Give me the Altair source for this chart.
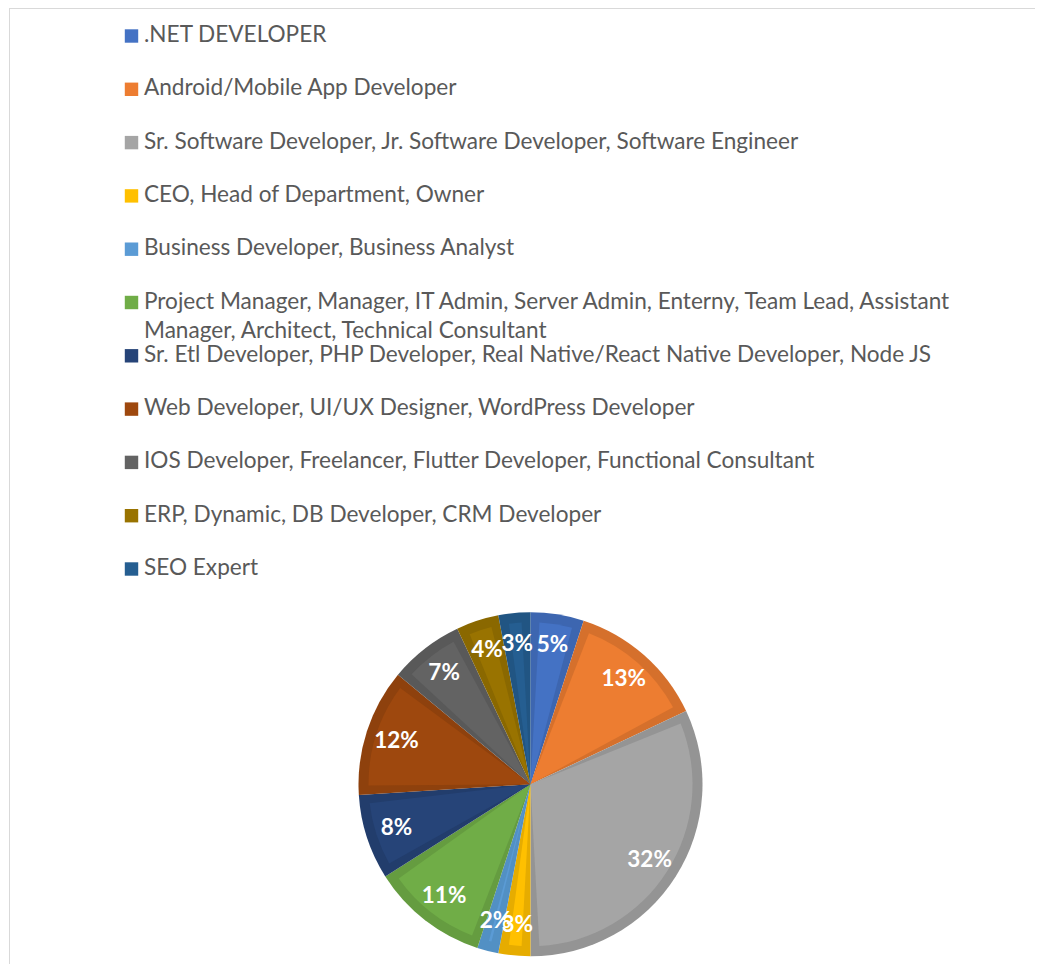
import altair as alt
import pandas as pd

categories = [
    ".NET DEVELOPER",
    "Android/Mobile App Developer",
    "Sr. Software Developer, Jr. Software Developer, Software Engineer",
    "CEO, Head of Department, Owner",
    "Business Developer, Business Analyst",
    "Project Manager, Manager, IT Admin, Server Admin, Enterny, Team Lead, Assistant Manager, Architect, Technical Consultant",
    "Sr. Etl Developer, PHP Developer, Real Native/React Native Developer, Node JS",
    "Web Developer, UI/UX Designer, WordPress Developer",
    "IOS Developer, Freelancer, Flutter Developer, Functional Consultant",
    "ERP, Dynamic, DB Developer, CRM Developer",
    "SEO Expert",
]
shares = [5, 13, 32, 3, 2, 11, 8, 12, 7, 4, 3]

fill_colors = ["#4472C4", "#ED7D31", "#A5A5A5", "#FFC000", "#5B9BD5", "#70AD47",
               "#264478", "#9E480E", "#636363", "#997300", "#255E91"]
edge_colors = ["#3D66B0", "#D5702C", "#949494", "#E6AC00", "#5290C4", "#659C40",
               "#223D6C", "#8E410D", "#595959", "#8A6800", "#215583"]

df = pd.DataFrame({"category": categories, "share": shares, "idx": list(range(len(categories)))})

W, H = 1026, 958
CX, CY, R = 521.5, 776.3, 172
FONT = "Lato"

base = alt.Chart(df)

pie_edge = base.mark_arc(outerRadius=R).encode(
    theta=alt.Theta("share:Q", stack=True),
    order=alt.Order("idx:Q"),
    fill=alt.Fill("category:N", sort=categories,
                  scale=alt.Scale(domain=categories, range=edge_colors), legend=None),
    x=alt.value(CX), y=alt.value(CY),
)

pie_face = base.mark_arc(outerRadius=R - 10, padAngle=0.11).encode(
    theta=alt.Theta("share:Q", stack=True),
    order=alt.Order("idx:Q"),
    color=alt.Color("category:N", sort=categories,
                    scale=alt.Scale(domain=categories, range=fill_colors), legend=None),
    x=alt.value(CX), y=alt.value(CY),
)

pie_text = base.transform_calculate(
    label="datum.share + '%'"
).mark_text(radius=141, font=FONT, fontSize=22.5, fontWeight="bold", color="white",
            align="center", baseline="middle").encode(
    theta=alt.Theta("share:Q", stack=True),
    order=alt.Order("idx:Q"),
    text="label:N",
    x=alt.value(CX), y=alt.value(CY),
)

ypos = alt.Y("category:N", sort=categories,
             scale=alt.Scale(type="point", range=[28, 561], padding=0), axis=None)

leg_sq = base.mark_square(size=180, opacity=1).encode(
    x=alt.value(122.5),
    y=ypos,
    color=alt.Color("category:N", sort=categories,
                    scale=alt.Scale(domain=categories, range=fill_colors), legend=None),
)

leg_txt = base.transform_calculate(
    legend_text="replace(datum.category, 'Assistant Manager', 'Assistant|Manager')"
).mark_text(align="left", baseline="alphabetic", dy=6, font=FONT, fontSize=22.6,
            color="#595959", lineBreak="|", lineHeight=29).encode(
    x=alt.value(135),
    y=ypos,
    text="legend_text:N",
)

frame_top = base.mark_rule(color="#d9d9d9").encode(
    x=alt.value(0), x2=alt.value(W), y=alt.value(0.5))
frame_left = base.mark_rect(color="#d9d9d9").encode(
    x=alt.value(0), x2=alt.value(1), y=alt.value(0), y2=alt.value(H - 2))

chart = alt.layer(
    frame_top, frame_left, pie_edge, pie_face, pie_text, leg_sq, leg_txt
).resolve_scale(
    color="independent", fill="independent"
).properties(
    width=W, height=H, padding=0, background="white"
).configure_view(stroke="transparent", strokeWidth=0)

chart.save("out.html", embed_options={"renderer": "svg", "actions": False})
